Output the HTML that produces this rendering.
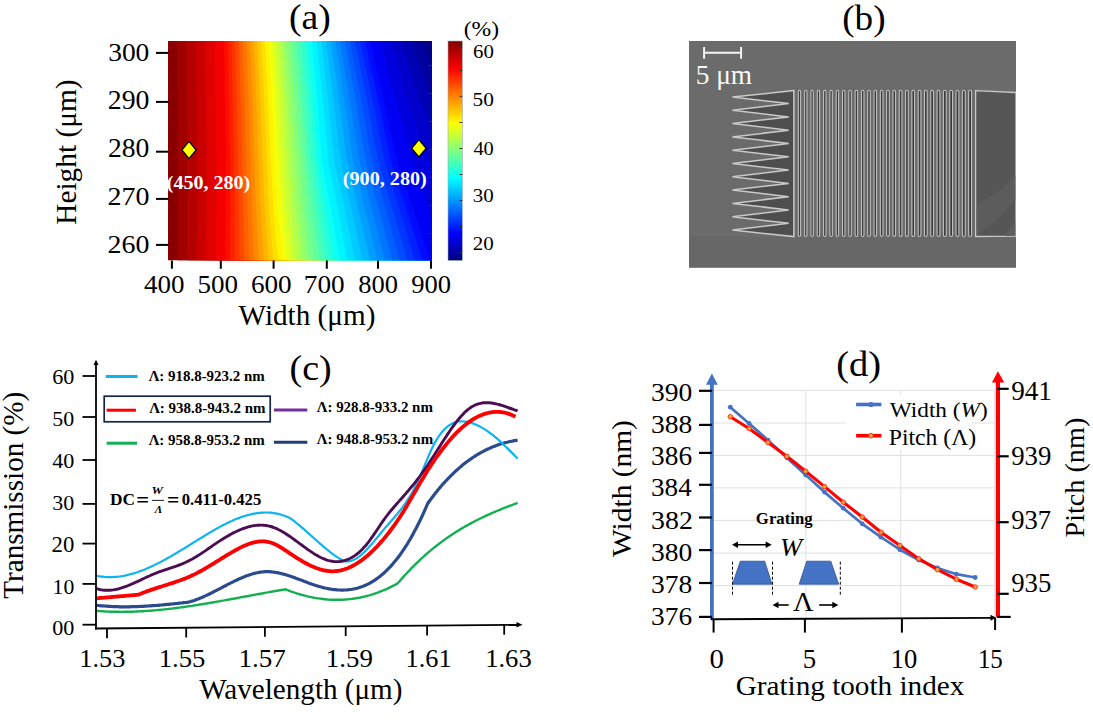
<!DOCTYPE html>
<html><head><meta charset="utf-8"><style>
html,body{margin:0;padding:0;background:#fff;width:1093px;height:720px;overflow:hidden}
svg{display:block}
text{font-family:"Liberation Serif",serif;fill:#000}
.b{font-weight:bold}
</style></head><body>
<svg width="1093" height="720" viewBox="0 0 1093 720">
<defs>
<clipPath id="hc"><rect x="168" y="41" width="264" height="219.5"/></clipPath>
<linearGradient id="cbg" x1="0" y1="0" x2="0" y2="1"><stop offset="0.000" stop-color="#800000"/><stop offset="0.025" stop-color="#990000"/><stop offset="0.050" stop-color="#b30000"/><stop offset="0.075" stop-color="#cc0000"/><stop offset="0.100" stop-color="#e50000"/><stop offset="0.125" stop-color="#ff0000"/><stop offset="0.150" stop-color="#ff1a00"/><stop offset="0.175" stop-color="#ff3300"/><stop offset="0.200" stop-color="#ff4c00"/><stop offset="0.225" stop-color="#ff6600"/><stop offset="0.250" stop-color="#ff8000"/><stop offset="0.275" stop-color="#ff9900"/><stop offset="0.300" stop-color="#ffb300"/><stop offset="0.325" stop-color="#ffcc00"/><stop offset="0.350" stop-color="#ffe500"/><stop offset="0.375" stop-color="#ffff00"/><stop offset="0.400" stop-color="#e5ff1a"/><stop offset="0.425" stop-color="#ccff33"/><stop offset="0.450" stop-color="#b3ff4c"/><stop offset="0.475" stop-color="#99ff66"/><stop offset="0.500" stop-color="#80ff80"/><stop offset="0.525" stop-color="#66ff99"/><stop offset="0.550" stop-color="#4cffb3"/><stop offset="0.575" stop-color="#33ffcc"/><stop offset="0.600" stop-color="#1affe5"/><stop offset="0.625" stop-color="#00ffff"/><stop offset="0.650" stop-color="#00e5ff"/><stop offset="0.675" stop-color="#00ccff"/><stop offset="0.700" stop-color="#00b3ff"/><stop offset="0.725" stop-color="#0099ff"/><stop offset="0.750" stop-color="#0080ff"/><stop offset="0.775" stop-color="#0066ff"/><stop offset="0.800" stop-color="#004cff"/><stop offset="0.825" stop-color="#0033ff"/><stop offset="0.850" stop-color="#001aff"/><stop offset="0.875" stop-color="#0000ff"/><stop offset="0.900" stop-color="#0000e5"/><stop offset="0.925" stop-color="#0000cc"/><stop offset="0.950" stop-color="#0000b3"/><stop offset="0.975" stop-color="#000099"/><stop offset="1.000" stop-color="#000080"/></linearGradient>
</defs>

<g clip-path="url(#hc)"><rect x="163" y="41" width="274" height="219.5" fill="#8a0000"/><polygon points="177.3,41.0 177.4,54.7 177.4,68.4 177.4,82.2 177.5,95.9 177.5,109.6 177.6,123.3 177.6,137.0 177.6,150.8 177.7,164.5 177.7,178.2 177.7,191.9 177.7,205.6 177.6,219.3 177.6,233.1 177.5,246.8 177.5,260.5 520,260.5 520,41.0" fill="#9f0000"/><polygon points="186.7,41.0 186.7,54.7 186.8,68.4 186.9,82.2 187.0,95.9 187.1,109.6 187.1,123.3 187.2,137.0 187.3,150.8 187.3,164.5 187.3,178.2 187.3,191.9 187.3,205.6 187.2,219.3 187.2,233.1 187.1,246.8 187.0,260.5 520,260.5 520,41.0" fill="#b50000"/><polygon points="196.0,41.0 196.1,54.7 196.2,68.4 196.3,82.2 196.5,95.9 196.6,109.6 196.7,123.3 196.8,137.0 196.9,150.8 197.0,164.5 197.0,178.2 197.0,191.9 197.0,205.6 196.9,219.3 196.8,233.1 196.6,246.8 196.5,260.5 520,260.5 520,41.0" fill="#ca0000"/><polygon points="205.3,41.0 205.5,54.7 205.6,68.4 205.8,82.2 206.0,95.9 206.1,109.6 206.3,123.3 206.4,137.0 206.6,150.8 206.7,164.5 206.7,178.2 206.7,191.9 206.7,205.6 206.5,219.3 206.3,233.1 206.2,246.8 206.0,260.5 520,260.5 520,41.0" fill="#df0000"/><polygon points="214.7,41.0 214.9,54.7 215.1,68.4 215.2,82.2 215.4,95.9 215.6,109.6 215.8,123.3 216.0,137.0 216.2,150.8 216.3,164.5 216.3,178.2 216.3,191.9 216.3,205.6 216.1,219.3 215.9,233.1 215.7,246.8 215.5,260.5 520,260.5 520,41.0" fill="#f40000"/><polygon points="224.0,41.0 224.2,54.7 224.5,68.4 224.7,82.2 224.9,95.9 225.2,109.6 225.4,123.3 225.6,137.0 225.9,150.8 226.0,164.5 226.0,178.2 226.0,191.9 226.0,205.6 225.8,219.3 225.5,233.1 225.2,246.8 225.0,260.5 520,260.5 520,41.0" fill="#ff0b00"/><polygon points="227.7,41.0 228.0,54.7 228.3,68.4 228.5,82.2 228.8,95.9 229.1,109.6 229.4,123.3 229.6,137.0 229.9,150.8 230.1,164.5 230.1,178.2 230.2,191.9 230.3,205.6 230.2,219.3 230.1,233.1 229.9,246.8 229.8,260.5 520,260.5 520,41.0" fill="#ff2000"/><polygon points="231.4,41.0 231.7,54.7 232.1,68.4 232.4,82.2 232.7,95.9 233.0,109.6 233.3,123.3 233.6,137.0 233.9,150.8 234.2,164.5 234.3,178.2 234.4,191.9 234.6,205.6 234.6,219.3 234.6,233.1 234.6,246.8 234.7,260.5 520,260.5 520,41.0" fill="#ff3500"/><polygon points="235.1,41.0 235.5,54.7 235.9,68.4 236.3,82.2 236.6,95.9 237.0,109.6 237.3,123.3 237.6,137.0 238.0,150.8 238.2,164.5 238.4,178.2 238.6,191.9 238.8,205.6 239.0,219.3 239.2,233.1 239.3,246.8 239.5,260.5 520,260.5 520,41.0" fill="#ff4a00"/><polygon points="238.8,41.0 239.3,54.7 239.7,68.4 240.1,82.2 240.5,95.9 240.9,109.6 241.3,123.3 241.6,137.0 242.0,150.8 242.3,164.5 242.6,178.2 242.9,191.9 243.1,205.6 243.4,219.3 243.7,233.1 244.0,246.8 244.3,260.5 520,260.5 520,41.0" fill="#ff6000"/><polygon points="242.5,41.0 243.0,54.7 243.5,68.4 244.0,82.2 244.4,95.9 244.9,109.6 245.2,123.3 245.6,137.0 246.0,150.8 246.4,164.5 246.7,178.2 247.1,191.9 247.4,205.6 247.9,219.3 248.3,233.1 248.7,246.8 249.2,260.5 520,260.5 520,41.0" fill="#ff7500"/><polygon points="246.2,41.0 246.8,54.7 247.3,68.4 247.8,82.2 248.3,95.9 248.8,109.6 249.2,123.3 249.6,137.0 250.1,150.8 250.5,164.5 250.9,178.2 251.3,191.9 251.7,205.6 252.3,219.3 252.8,233.1 253.4,246.8 254.0,260.5 520,260.5 520,41.0" fill="#ff8a00"/><polygon points="250.0,41.0 250.5,54.7 251.1,68.4 251.7,82.2 252.2,95.9 252.7,109.6 253.2,123.3 253.7,137.0 254.1,150.8 254.6,164.5 255.0,178.2 255.5,191.9 256.0,205.6 256.7,219.3 257.4,233.1 258.1,246.8 258.8,260.5 520,260.5 520,41.0" fill="#ff9f00"/><polygon points="253.7,41.0 254.3,54.7 254.9,68.4 255.5,82.2 256.1,95.9 256.7,109.6 257.2,123.3 257.7,137.0 258.2,150.8 258.7,164.5 259.2,178.2 259.7,191.9 260.3,205.6 261.1,219.3 262.0,233.1 262.8,246.8 263.7,260.5 520,260.5 520,41.0" fill="#ffb500"/><polygon points="257.4,41.0 258.0,54.7 258.7,68.4 259.4,82.2 260.0,95.9 260.6,109.6 261.1,123.3 261.7,137.0 262.2,150.8 262.7,164.5 263.3,178.2 263.9,191.9 264.5,205.6 265.5,219.3 266.5,233.1 267.5,246.8 268.5,260.5 520,260.5 520,41.0" fill="#ffca00"/><polygon points="261.1,41.0 261.8,54.7 262.5,68.4 263.2,82.2 263.9,95.9 264.5,109.6 265.1,123.3 265.7,137.0 266.2,150.8 266.8,164.5 267.5,178.2 268.2,191.9 268.8,205.6 270.0,219.3 271.1,233.1 272.2,246.8 273.3,260.5 520,260.5 520,41.0" fill="#ffdf00"/><polygon points="264.8,41.0 265.6,54.7 266.3,68.4 267.1,82.2 267.8,95.9 268.5,109.6 269.1,123.3 269.7,137.0 270.3,150.8 270.9,164.5 271.6,178.2 272.4,191.9 273.1,205.6 274.4,219.3 275.6,233.1 276.9,246.8 278.2,260.5 520,260.5 520,41.0" fill="#fff400"/><polygon points="268.5,41.0 269.3,54.7 270.1,68.4 270.9,82.2 271.7,95.9 272.4,109.6 273.1,123.3 273.7,137.0 274.3,150.8 275.0,164.5 275.8,178.2 276.6,191.9 277.4,205.6 278.8,219.3 280.2,233.1 281.6,246.8 283.0,260.5 520,260.5 520,41.0" fill="#f4ff0b"/><polygon points="271.9,41.0 272.8,54.7 273.7,68.4 274.6,82.2 275.5,95.9 276.2,109.6 276.9,123.3 277.7,137.0 278.4,150.8 279.1,164.5 280.0,178.2 280.8,191.9 281.7,205.6 283.1,219.3 284.5,233.1 286.0,246.8 287.4,260.5 520,260.5 520,41.0" fill="#dfff20"/><polygon points="275.2,41.0 276.2,54.7 277.2,68.4 278.2,82.2 279.2,95.9 280.0,109.6 280.8,123.3 281.6,137.0 282.4,150.8 283.3,164.5 284.1,178.2 285.0,191.9 285.9,205.6 287.4,219.3 288.9,233.1 290.3,246.8 291.8,260.5 520,260.5 520,41.0" fill="#caff35"/><polygon points="278.6,41.0 279.7,54.7 280.8,68.4 281.8,82.2 282.9,95.9 283.8,109.6 284.7,123.3 285.6,137.0 286.5,150.8 287.4,164.5 288.3,178.2 289.3,191.9 290.2,205.6 291.7,219.3 293.2,233.1 294.7,246.8 296.2,260.5 520,260.5 520,41.0" fill="#b5ff4a"/><polygon points="282.0,41.0 283.1,54.7 284.3,68.4 285.5,82.2 286.6,95.9 287.7,109.6 288.6,123.3 289.6,137.0 290.5,150.8 291.5,164.5 292.5,178.2 293.5,191.9 294.5,205.6 296.0,219.3 297.5,233.1 299.1,246.8 300.6,260.5 520,260.5 520,41.0" fill="#9fff60"/><polygon points="285.3,41.0 286.6,54.7 287.8,68.4 289.1,82.2 290.3,95.9 291.5,109.6 292.5,123.3 293.6,137.0 294.6,150.8 295.7,164.5 296.7,178.2 297.7,191.9 298.7,205.6 300.3,219.3 301.9,233.1 303.4,246.8 305.0,260.5 520,260.5 520,41.0" fill="#8aff75"/><polygon points="288.7,41.0 290.0,54.7 291.4,68.4 292.7,82.2 294.1,95.9 295.3,109.6 296.4,123.3 297.5,137.0 298.7,150.8 299.8,164.5 300.9,178.2 301.9,191.9 303.0,205.6 304.6,219.3 306.2,233.1 307.8,246.8 309.4,260.5 520,260.5 520,41.0" fill="#75ff8a"/><polygon points="292.6,41.0 293.9,54.7 295.2,68.4 296.6,82.2 297.9,95.9 299.1,109.6 300.2,123.3 301.3,137.0 302.4,150.8 303.6,164.5 304.9,178.2 306.2,191.9 307.6,205.6 309.3,219.3 311.0,233.1 312.8,246.8 314.5,260.5 520,260.5 520,41.0" fill="#60ff9f"/><polygon points="296.5,41.0 297.8,54.7 299.1,68.4 300.4,82.2 301.7,95.9 302.9,109.6 304.0,123.3 305.0,137.0 306.1,150.8 307.4,164.5 309.0,178.2 310.6,191.9 312.2,205.6 314.0,219.3 315.9,233.1 317.7,246.8 319.6,260.5 520,260.5 520,41.0" fill="#4affb5"/><polygon points="300.4,41.0 301.7,54.7 303.0,68.4 304.3,82.2 305.6,95.9 306.7,109.6 307.8,123.3 308.8,137.0 309.8,150.8 311.2,164.5 313.0,178.2 314.9,191.9 316.8,205.6 318.7,219.3 320.7,233.1 322.7,246.8 324.7,260.5 520,260.5 520,41.0" fill="#35ffca"/><polygon points="304.2,41.0 305.5,54.7 306.8,68.4 308.1,82.2 309.4,95.9 310.5,109.6 311.5,123.3 312.5,137.0 313.6,150.8 315.0,164.5 317.1,178.2 319.2,191.9 321.3,205.6 323.4,219.3 325.6,233.1 327.7,246.8 329.8,260.5 520,260.5 520,41.0" fill="#20ffdf"/><polygon points="308.1,41.0 309.4,54.7 310.7,68.4 312.0,82.2 313.3,95.9 314.3,109.6 315.3,123.3 316.3,137.0 317.3,150.8 318.8,164.5 321.1,178.2 323.5,191.9 325.9,205.6 328.2,219.3 330.4,233.1 332.7,246.8 334.9,260.5 520,260.5 520,41.0" fill="#0bfff4"/><polygon points="312.0,41.0 313.3,54.7 314.5,68.4 315.8,82.2 317.1,95.9 318.1,109.6 319.1,123.3 320.0,137.0 321.0,150.8 322.6,164.5 325.2,178.2 327.9,191.9 330.5,205.6 332.9,219.3 335.2,233.1 337.6,246.8 340.0,260.5 520,260.5 520,41.0" fill="#00f4ff"/><polygon points="316.7,41.0 318.1,54.7 319.6,68.4 321.0,82.2 322.5,95.9 323.7,109.6 324.8,123.3 326.0,137.0 327.1,150.8 328.8,164.5 331.6,178.2 334.4,191.9 337.2,205.6 339.8,219.3 342.4,233.1 344.9,246.8 347.5,260.5 520,260.5 520,41.0" fill="#00dfff"/><polygon points="321.3,41.0 323.0,54.7 324.6,68.4 326.2,82.2 327.8,95.9 329.2,109.6 330.6,123.3 331.9,137.0 333.2,150.8 335.1,164.5 338.1,178.2 341.0,191.9 344.0,205.6 346.8,219.3 349.5,233.1 352.2,246.8 355.0,260.5 520,260.5 520,41.0" fill="#00caff"/><polygon points="326.0,41.0 327.8,54.7 329.6,68.4 331.4,82.2 333.2,95.9 334.8,109.6 336.3,123.3 337.8,137.0 339.3,150.8 341.4,164.5 344.5,178.2 347.6,191.9 350.8,205.6 353.7,219.3 356.6,233.1 359.6,246.8 362.5,260.5 520,260.5 520,41.0" fill="#00b5ff"/><polygon points="330.7,41.0 332.6,54.7 334.6,68.4 336.6,82.2 338.5,95.9 340.3,109.6 342.0,123.3 343.7,137.0 345.4,150.8 347.7,164.5 351.0,178.2 354.2,191.9 357.5,205.6 360.6,219.3 363.8,233.1 366.9,246.8 370.0,260.5 520,260.5 520,41.0" fill="#009fff"/><polygon points="335.3,41.0 337.5,54.7 339.6,68.4 341.8,82.2 343.9,95.9 345.9,109.6 347.8,123.3 349.7,137.0 351.6,150.8 354.0,164.5 357.4,178.2 360.8,191.9 364.2,205.6 367.6,219.3 370.9,233.1 374.2,246.8 377.5,260.5 520,260.5 520,41.0" fill="#008aff"/><polygon points="340.0,41.0 342.3,54.7 344.6,68.4 346.9,82.2 349.3,95.9 351.4,109.6 353.5,123.3 355.6,137.0 357.7,150.8 360.3,164.5 363.9,178.2 367.4,191.9 371.0,205.6 374.5,219.3 378.0,233.1 381.5,246.8 385.0,260.5 520,260.5 520,41.0" fill="#0075ff"/><polygon points="345.0,41.0 347.5,54.7 349.9,68.4 352.4,82.2 354.9,95.9 357.2,109.6 359.4,123.3 361.6,137.0 363.9,150.8 366.6,164.5 370.4,178.2 374.1,191.9 377.8,205.6 381.5,219.3 385.2,233.1 388.8,246.8 392.5,260.5 520,260.5 520,41.0" fill="#0060ff"/><polygon points="350.0,41.0 352.6,54.7 355.2,68.4 357.9,82.2 360.5,95.9 362.9,109.6 365.3,123.3 367.7,137.0 370.1,150.8 373.0,164.5 376.9,178.2 380.8,191.9 384.7,205.6 388.5,219.3 392.3,233.1 396.2,246.8 400.0,260.5 520,260.5 520,41.0" fill="#004aff"/><polygon points="355.0,41.0 357.8,54.7 360.6,68.4 363.3,82.2 366.1,95.9 368.7,109.6 371.2,123.3 373.7,137.0 376.2,150.8 379.3,164.5 383.4,178.2 387.4,191.9 391.5,205.6 395.5,219.3 399.5,233.1 403.5,246.8 407.5,260.5 520,260.5 520,41.0" fill="#0035ff"/><polygon points="360.0,41.0 362.9,54.7 365.9,68.4 368.8,82.2 371.7,95.9 374.5,109.6 377.1,123.3 379.8,137.0 382.4,150.8 385.7,164.5 389.9,178.2 394.1,191.9 398.3,205.6 402.5,219.3 406.7,233.1 410.8,246.8 415.0,260.5 520,260.5 520,41.0" fill="#0020ff"/><polygon points="365.0,41.0 368.1,54.7 371.2,68.4 374.3,82.2 377.3,95.9 380.2,109.6 383.0,123.3 385.8,137.0 388.6,150.8 392.0,164.5 396.4,178.2 400.8,191.9 405.2,205.6 409.5,219.3 413.8,233.1 418.2,246.8 422.5,260.5 520,260.5 520,41.0" fill="#000bff"/><polygon points="370.0,41.0 373.2,54.7 376.5,68.4 379.7,82.2 383.0,95.9 386.0,109.6 388.9,123.3 391.9,137.0 394.8,150.8 398.3,164.5 402.9,178.2 407.4,191.9 412.0,205.6 416.5,219.3 421.0,233.1 425.5,246.8 430.0,260.5 520,260.5 520,41.0" fill="#0000f4"/><polygon points="380.3,41.0 383.9,54.7 387.5,68.4 391.1,82.2 394.7,95.9 398.4,109.6 402.2,123.3 406.0,137.0 409.8,150.8 413.9,164.5 418.4,178.2 423.0,191.9 427.5,205.6 431.0,219.3 434.6,233.1 438.1,246.8 441.7,260.5 520,260.5 520,41.0" fill="#0000df"/><polygon points="390.7,41.0 394.6,54.7 398.5,68.4 402.5,82.2 406.4,95.9 410.8,109.6 415.5,123.3 420.2,137.0 424.8,150.8 429.4,164.5 434.0,178.2 438.5,191.9 443.0,205.6 445.6,219.3 448.2,233.1 450.8,246.8 453.3,260.5 520,260.5 520,41.0" fill="#0000ca"/><polygon points="401.0,41.0 405.3,54.7 409.6,68.4 413.8,82.2 418.1,95.9 423.3,109.6 428.8,123.3 434.3,137.0 439.8,150.8 445.0,164.5 449.5,178.2 454.0,191.9 458.5,205.6 460.1,219.3 461.8,233.1 463.4,246.8 465.0,260.5 520,260.5 520,41.0" fill="#0000b5"/><polygon points="411.3,41.0 416.0,54.7 420.6,68.4 425.2,82.2 429.9,95.9 435.7,109.6 442.1,123.3 448.4,137.0 454.8,150.8 460.5,164.5 465.0,178.2 469.5,191.9 474.0,205.6 474.7,219.3 475.3,233.1 476.0,246.8 476.7,260.5 520,260.5 520,41.0" fill="#00009f"/><polygon points="421.7,41.0 426.6,54.7 431.6,68.4 436.6,82.2 441.6,95.9 448.1,109.6 455.3,123.3 462.6,137.0 469.8,150.8 476.1,164.5 480.5,178.2 485.0,191.9 489.5,205.6 489.2,219.3 488.9,233.1 488.6,246.8 488.3,260.5 520,260.5 520,41.0" fill="#00008a"/></g>
<rect x="448" y="41" width="14.3" height="219.5" fill="url(#cbg)" stroke="#9aa" stroke-width="0.6"/>
<line x1="168" y1="65.6" x2="171" y2="65.6" stroke="#333" stroke-width="1"/>
<line x1="429" y1="65.6" x2="432" y2="65.6" stroke="#333" stroke-width="1"/>
<line x1="168" y1="93.5" x2="171" y2="93.5" stroke="#333" stroke-width="1"/>
<line x1="429" y1="93.5" x2="432" y2="93.5" stroke="#333" stroke-width="1"/>
<line x1="168" y1="121.5" x2="171" y2="121.5" stroke="#333" stroke-width="1"/>
<line x1="429" y1="121.5" x2="432" y2="121.5" stroke="#333" stroke-width="1"/>
<line x1="168" y1="149.5" x2="171" y2="149.5" stroke="#333" stroke-width="1"/>
<line x1="429" y1="149.5" x2="432" y2="149.5" stroke="#333" stroke-width="1"/>
<line x1="168" y1="177.5" x2="171" y2="177.5" stroke="#333" stroke-width="1"/>
<line x1="429" y1="177.5" x2="432" y2="177.5" stroke="#333" stroke-width="1"/>
<line x1="168" y1="205.3" x2="171" y2="205.3" stroke="#333" stroke-width="1"/>
<line x1="429" y1="205.3" x2="432" y2="205.3" stroke="#333" stroke-width="1"/>
<line x1="168" y1="233.4" x2="171" y2="233.4" stroke="#333" stroke-width="1"/>
<line x1="429" y1="233.4" x2="432" y2="233.4" stroke="#333" stroke-width="1"/>
<line x1="459.5" y1="44.4" x2="462.3" y2="44.4" stroke="#333" stroke-width="1"/>
<line x1="459.5" y1="70.4" x2="462.3" y2="70.4" stroke="#333" stroke-width="1"/>
<line x1="459.5" y1="96.3" x2="462.3" y2="96.3" stroke="#333" stroke-width="1"/>
<line x1="459.5" y1="122.5" x2="462.3" y2="122.5" stroke="#333" stroke-width="1"/>
<line x1="459.5" y1="148.5" x2="462.3" y2="148.5" stroke="#333" stroke-width="1"/>
<line x1="459.5" y1="174.5" x2="462.3" y2="174.5" stroke="#333" stroke-width="1"/>
<line x1="459.5" y1="200.5" x2="462.3" y2="200.5" stroke="#333" stroke-width="1"/>
<line x1="459.5" y1="226.5" x2="462.3" y2="226.5" stroke="#333" stroke-width="1"/>
<line x1="459.5" y1="252.5" x2="462.3" y2="252.5" stroke="#333" stroke-width="1"/>
<line x1="156" y1="52.9" x2="168.5" y2="52.9" stroke="#000" stroke-width="2"/>
<line x1="156" y1="101.9" x2="168.5" y2="101.9" stroke="#000" stroke-width="2"/>
<line x1="156" y1="151.7" x2="168.5" y2="151.7" stroke="#000" stroke-width="2"/>
<line x1="156" y1="198.9" x2="168.5" y2="198.9" stroke="#000" stroke-width="2"/>
<line x1="156" y1="244.9" x2="168.5" y2="244.9" stroke="#000" stroke-width="2"/>
<line x1="171.9" y1="260.5" x2="171.9" y2="268.7" stroke="#000" stroke-width="2"/>
<line x1="220.8" y1="260.5" x2="220.8" y2="268.7" stroke="#000" stroke-width="2"/>
<line x1="273.6" y1="260.5" x2="273.6" y2="268.7" stroke="#000" stroke-width="2"/>
<line x1="326.8" y1="260.5" x2="326.8" y2="268.7" stroke="#000" stroke-width="2"/>
<line x1="378" y1="260.5" x2="378" y2="268.7" stroke="#000" stroke-width="2"/>
<line x1="431" y1="260.5" x2="431" y2="268.7" stroke="#000" stroke-width="2"/>
<text transform="translate(108.16,60.54) scale(1.0543,1)" font-size="26.07">300</text>
<text transform="translate(107.75,108.93) scale(1.0358,1)" font-size="26.81">290</text>
<text transform="translate(107.96,156.54) scale(1.0479,1)" font-size="26.37">280</text>
<text transform="translate(107.49,204.74) scale(1.0843,1)" font-size="25.78">270</text>
<text transform="translate(107.49,252.64) scale(1.0906,1)" font-size="25.63">260</text>
<text transform="translate(144.06,293.24) scale(1.0480,1)" font-size="25.78">400</text>
<text transform="translate(197.38,293.24) scale(1.0502,1)" font-size="25.78">500</text>
<text transform="translate(250.91,293.24) scale(1.0545,1)" font-size="25.78">600</text>
<text transform="translate(303.83,293.24) scale(1.0567,1)" font-size="25.78">700</text>
<text transform="translate(358.24,293.24) scale(1.0272,1)" font-size="25.78">800</text>
<text transform="translate(411.20,293.24) scale(1.0309,1)" font-size="25.78">900</text>
<text transform="translate(238.50,325.43) scale(1.0186,1)" font-size="28.68">Width (&#956;m)</text>
<text transform="translate(75.92,224.78) rotate(-90) scale(1.0046,1)" font-size="29.23">Height (&#956;m)</text>
<text transform="translate(289.01,29.44) scale(1.0706,1)" font-size="35.16">(a)</text>
<text transform="translate(472.97,57.82) scale(1.1547,1)" font-size="18.07">60</text>
<text transform="translate(472.52,106.22) scale(1.1803,1)" font-size="18.07">50</text>
<text transform="translate(473.39,154.61) scale(1.0856,1)" font-size="18.81">40</text>
<text transform="translate(472.86,202.02) scale(1.1610,1)" font-size="18.07">30</text>
<text transform="translate(472.86,249.62) scale(1.1610,1)" font-size="18.07">20</text>
<text transform="translate(463.64,36.07) scale(1.0746,1)" font-size="21.98">(%)</text>
<polygon points="189,141.4 196.2,150 189,158.6 181.8,150" fill="#ffff00" stroke="#000" stroke-width="1.3"/>
<polygon points="418.9,139.7 426.1,148.3 418.9,156.9 411.7,148.3" fill="#ffff00" stroke="#000" stroke-width="1.3"/>
<text transform="translate(166.70,188.97) scale(1.0193,1)" font-size="19.67" font-weight="bold" style="fill:#fff">(450, 280)</text>
<text transform="translate(342.79,185.49) scale(1.0312,1)" font-size="19.56" font-weight="bold" style="fill:#fff">(900, 280)</text>
<text transform="translate(842.23,30.03) scale(1.0296,1)" font-size="36.15">(b)</text>
<rect x="689" y="41" width="327" height="196" fill="#6b6b6b"/><rect x="689" y="237" width="327" height="30.8" fill="#676767"/><polygon points="793.9,90.6 732.4,97.0 788.7,103.6 732.4,110.3 788.7,116.9 732.4,123.6 788.7,130.2 732.4,136.9 788.7,143.5 732.4,150.2 788.7,156.8 732.4,163.5 788.7,170.1 732.4,176.8 788.7,183.4 732.4,190.1 788.7,196.7 732.4,203.4 788.7,210.0 732.4,216.7 788.7,223.3 732.4,230.0 793.9,236.6" fill="#4e4e4e" stroke="#c9c9c9" stroke-width="1.5" stroke-linejoin="miter"/><rect x="798.35" y="90.2" width="2.30" height="146.2" rx="1.15" ry="1.15" fill="#3c3c3c" stroke="#c4c4c4" stroke-width="1.05"/><rect x="804.66" y="90.2" width="2.32" height="146.2" rx="1.16" ry="1.16" fill="#3c3c3c" stroke="#c4c4c4" stroke-width="1.05"/><rect x="810.96" y="90.2" width="2.34" height="146.2" rx="1.17" ry="1.17" fill="#3c3c3c" stroke="#c4c4c4" stroke-width="1.05"/><rect x="817.27" y="90.2" width="2.37" height="146.2" rx="1.18" ry="1.18" fill="#3c3c3c" stroke="#c4c4c4" stroke-width="1.05"/><rect x="823.58" y="90.2" width="2.39" height="146.2" rx="1.19" ry="1.19" fill="#3c3c3c" stroke="#c4c4c4" stroke-width="1.05"/><rect x="829.88" y="90.2" width="2.41" height="146.2" rx="1.21" ry="1.21" fill="#3c3c3c" stroke="#c4c4c4" stroke-width="1.05"/><rect x="836.19" y="90.2" width="2.43" height="146.2" rx="1.22" ry="1.22" fill="#3c3c3c" stroke="#c4c4c4" stroke-width="1.05"/><rect x="842.50" y="90.2" width="2.46" height="146.2" rx="1.23" ry="1.23" fill="#3c3c3c" stroke="#c4c4c4" stroke-width="1.05"/><rect x="848.81" y="90.2" width="2.48" height="146.2" rx="1.24" ry="1.24" fill="#3c3c3c" stroke="#c4c4c4" stroke-width="1.05"/><rect x="855.11" y="90.2" width="2.50" height="146.2" rx="1.25" ry="1.25" fill="#3c3c3c" stroke="#c4c4c4" stroke-width="1.05"/><rect x="861.42" y="90.2" width="2.52" height="146.2" rx="1.26" ry="1.26" fill="#3c3c3c" stroke="#c4c4c4" stroke-width="1.05"/><rect x="867.73" y="90.2" width="2.54" height="146.2" rx="1.27" ry="1.27" fill="#3c3c3c" stroke="#c4c4c4" stroke-width="1.05"/><rect x="874.03" y="90.2" width="2.57" height="146.2" rx="1.28" ry="1.28" fill="#3c3c3c" stroke="#c4c4c4" stroke-width="1.05"/><rect x="880.34" y="90.2" width="2.59" height="146.2" rx="1.29" ry="1.29" fill="#3c3c3c" stroke="#c4c4c4" stroke-width="1.05"/><rect x="886.65" y="90.2" width="2.61" height="146.2" rx="1.31" ry="1.31" fill="#3c3c3c" stroke="#c4c4c4" stroke-width="1.05"/><rect x="892.95" y="90.2" width="2.63" height="146.2" rx="1.32" ry="1.32" fill="#3c3c3c" stroke="#c4c4c4" stroke-width="1.05"/><rect x="899.26" y="90.2" width="2.66" height="146.2" rx="1.33" ry="1.33" fill="#3c3c3c" stroke="#c4c4c4" stroke-width="1.05"/><rect x="905.57" y="90.2" width="2.68" height="146.2" rx="1.34" ry="1.34" fill="#3c3c3c" stroke="#c4c4c4" stroke-width="1.05"/><rect x="911.87" y="90.2" width="2.70" height="146.2" rx="1.35" ry="1.35" fill="#3c3c3c" stroke="#c4c4c4" stroke-width="1.05"/><rect x="918.18" y="90.2" width="2.72" height="146.2" rx="1.36" ry="1.36" fill="#3c3c3c" stroke="#c4c4c4" stroke-width="1.05"/><rect x="924.49" y="90.2" width="2.74" height="146.2" rx="1.37" ry="1.37" fill="#3c3c3c" stroke="#c4c4c4" stroke-width="1.05"/><rect x="930.79" y="90.2" width="2.77" height="146.2" rx="1.38" ry="1.38" fill="#3c3c3c" stroke="#c4c4c4" stroke-width="1.05"/><rect x="937.10" y="90.2" width="2.79" height="146.2" rx="1.39" ry="1.39" fill="#3c3c3c" stroke="#c4c4c4" stroke-width="1.05"/><rect x="943.41" y="90.2" width="2.81" height="146.2" rx="1.41" ry="1.41" fill="#3c3c3c" stroke="#c4c4c4" stroke-width="1.05"/><rect x="949.72" y="90.2" width="2.83" height="146.2" rx="1.42" ry="1.42" fill="#3c3c3c" stroke="#c4c4c4" stroke-width="1.05"/><rect x="956.02" y="90.2" width="2.86" height="146.2" rx="1.43" ry="1.43" fill="#3c3c3c" stroke="#c4c4c4" stroke-width="1.05"/><rect x="962.33" y="90.2" width="2.88" height="146.2" rx="1.44" ry="1.44" fill="#3c3c3c" stroke="#c4c4c4" stroke-width="1.05"/><rect x="968.64" y="90.2" width="2.90" height="146.2" rx="1.45" ry="1.45" fill="#3c3c3c" stroke="#c4c4c4" stroke-width="1.05"/><polygon points="1016,92.5 975.6,90.7 975.6,236.5 1016,236.2" fill="#565656" stroke="#c8c8c8" stroke-width="1.3"/><polygon points="977,205 1000,190 1015.3,176 1015.3,200 995,222 977,235" fill="#5d5d5d" opacity="0.9"/><polygon points="1005,236 1015.3,222 1015.3,235.6" fill="#5f5f5f"/><rect x="1016" y="88" width="6" height="152" fill="#fff"/><path d="M704.1,52.8 H741.1 M704.1,47 V58.8 M741.1,47 V58.8" stroke="#f4f4f4" stroke-width="2" fill="none"/><text transform="translate(695.66,84.07) scale(0.9910,1)" font-size="27.59" style="fill:#f8f8f8">5 &#956;m</text>
<path d="M96.8,610.9 L98.3,611.0 L99.8,611.1 L101.3,611.2 L102.8,611.3 L104.3,611.4 L105.8,611.5 L107.3,611.6 L108.8,611.6 L110.3,611.7 L111.8,611.7 L113.3,611.8 L114.8,611.8 L116.3,611.8 L117.8,611.8 L119.3,611.8 L120.8,611.9 L122.3,611.9 L123.8,611.8 L125.3,611.8 L126.8,611.8 L128.3,611.8 L129.8,611.7 L131.3,611.7 L132.8,611.7 L134.3,611.6 L135.8,611.5 L137.3,611.5 L138.8,611.4 L140.3,611.3 L141.8,611.3 L143.3,611.2 L144.8,611.1 L146.3,611.0 L147.8,610.9 L149.3,610.8 L150.8,610.7 L152.3,610.5 L153.8,610.4 L155.3,610.3 L156.8,610.1 L158.3,610.0 L159.8,609.9 L161.3,609.7 L162.8,609.6 L164.3,609.4 L165.8,609.2 L167.3,609.1 L168.8,608.9 L170.3,608.7 L171.8,608.6 L173.3,608.4 L174.8,608.2 L176.3,608.0 L177.8,607.8 L179.3,607.6 L180.8,607.4 L182.3,607.2 L183.8,607.0 L185.3,606.8 L186.8,606.6 L188.3,606.3 L189.8,606.1 L191.3,605.9 L192.8,605.7 L194.3,605.4 L195.8,605.2 L197.3,605.0 L198.8,604.7 L200.3,604.5 L201.8,604.3 L203.3,604.0 L204.8,603.8 L206.3,603.5 L207.8,603.3 L209.3,603.0 L210.8,602.8 L212.3,602.5 L213.8,602.2 L215.3,602.0 L216.8,601.7 L218.3,601.4 L219.8,601.2 L221.3,600.9 L222.8,600.6 L224.3,600.4 L225.8,600.1 L227.3,599.8 L228.8,599.6 L230.3,599.3 L231.8,599.0 L233.3,598.7 L234.8,598.5 L236.3,598.2 L237.8,597.9 L239.3,597.6 L240.8,597.3 L242.3,597.1 L243.8,596.8 L245.3,596.5 L246.8,596.2 L248.3,596.0 L249.8,595.7 L251.3,595.4 L252.8,595.1 L254.3,594.8 L255.8,594.6 L257.3,594.3 L258.8,594.0 L260.3,593.7 L261.8,593.5 L263.3,593.2 L264.8,592.9 L266.3,592.6 L267.8,592.4 L269.3,592.1 L270.8,591.8 L272.3,591.6 L273.8,591.3 L275.3,591.0 L276.8,590.8 L278.3,590.5 L279.8,590.3 L281.3,590.0 L282.8,589.7 L284.3,589.5 L285.4,589.3 L286.9,589.9 L288.4,590.5 L289.9,591.0 L291.4,591.6 L292.9,592.1 L294.4,592.6 L295.9,593.1 L297.4,593.6 L298.9,594.0 L300.4,594.5 L301.9,594.9 L303.4,595.3 L304.9,595.7 L306.4,596.1 L307.9,596.4 L309.4,596.8 L310.9,597.1 L312.4,597.4 L313.9,597.7 L315.4,597.9 L316.9,598.2 L318.4,598.4 L319.9,598.6 L321.4,598.8 L322.9,599.0 L324.4,599.2 L325.9,599.3 L327.4,599.5 L328.9,599.6 L330.4,599.7 L331.9,599.7 L333.4,599.8 L334.9,599.8 L336.4,599.8 L337.9,599.8 L339.4,599.8 L340.9,599.8 L342.4,599.7 L343.9,599.6 L345.4,599.5 L346.9,599.4 L348.4,599.3 L349.9,599.1 L351.4,598.9 L352.9,598.7 L354.4,598.5 L355.9,598.3 L357.4,598.0 L358.9,597.8 L360.4,597.5 L361.9,597.1 L363.4,596.8 L364.9,596.5 L366.4,596.1 L367.9,595.7 L369.4,595.3 L370.9,594.8 L372.4,594.4 L373.9,593.9 L375.4,593.4 L376.9,592.8 L378.4,592.3 L379.9,591.7 L381.4,591.1 L382.9,590.5 L384.4,589.9 L385.9,589.3 L387.4,588.6 L388.9,587.9 L390.4,587.2 L391.9,586.4 L393.4,585.7 L394.9,584.9 L396.4,584.1 L397.8,583.3 L399.3,581.5 L400.8,579.8 L402.3,578.1 L403.8,576.4 L405.3,574.8 L406.8,573.2 L408.3,571.6 L409.8,570.0 L411.3,568.4 L412.8,566.9 L414.3,565.4 L415.8,563.9 L417.3,562.5 L418.8,561.0 L420.3,559.6 L421.8,558.2 L423.3,556.9 L424.8,555.5 L426.3,554.2 L427.8,552.9 L429.3,551.6 L430.8,550.4 L432.3,549.1 L433.8,547.9 L435.3,546.7 L436.8,545.5 L438.3,544.4 L439.8,543.2 L441.3,542.1 L442.8,541.0 L444.3,539.9 L445.8,538.8 L447.3,537.8 L448.8,536.7 L450.3,535.7 L451.8,534.7 L453.3,533.7 L454.8,532.8 L456.3,531.8 L457.8,530.9 L459.3,529.9 L460.8,529.0 L462.3,528.1 L463.8,527.3 L465.3,526.4 L466.8,525.6 L468.3,524.7 L469.8,523.9 L471.3,523.1 L472.8,522.3 L474.3,521.5 L475.8,520.7 L477.3,520.0 L478.8,519.2 L480.3,518.5 L481.8,517.7 L483.3,517.0 L484.8,516.3 L486.3,515.6 L487.8,514.9 L489.3,514.3 L490.8,513.6 L492.3,512.9 L493.8,512.3 L495.3,511.6 L496.8,511.0 L498.3,510.4 L499.8,509.8 L501.3,509.1 L502.8,508.5 L504.3,507.9 L505.8,507.4 L507.3,506.8 L508.8,506.2 L510.3,505.6 L511.8,505.1 L513.3,504.5 L514.8,503.9 L516.3,503.4 L517.6,502.9" fill="none" stroke="#12b050" stroke-width="2.4" stroke-linejoin="round"/>
<path d="M96.8,605.3 L98.3,605.5 L99.8,605.6 L101.3,605.8 L102.8,605.9 L104.3,606.0 L105.8,606.1 L107.3,606.2 L108.8,606.3 L110.3,606.4 L111.8,606.5 L113.3,606.6 L114.8,606.6 L116.3,606.7 L117.8,606.7 L119.3,606.8 L120.8,606.8 L122.3,606.8 L123.8,606.8 L125.3,606.8 L126.8,606.8 L128.3,606.8 L129.8,606.8 L131.3,606.7 L132.8,606.7 L134.3,606.7 L135.8,606.6 L137.3,606.6 L138.8,606.5 L140.3,606.4 L141.8,606.4 L143.3,606.3 L144.8,606.2 L146.3,606.1 L147.8,606.0 L149.3,605.9 L150.8,605.8 L152.3,605.7 L153.8,605.6 L155.3,605.5 L156.8,605.4 L158.3,605.3 L159.8,605.1 L161.3,605.0 L162.8,604.9 L164.3,604.7 L165.8,604.6 L167.3,604.4 L168.8,604.3 L170.3,604.1 L171.8,604.0 L173.3,603.8 L174.8,603.7 L176.3,603.5 L177.8,603.4 L179.3,603.2 L180.8,603.0 L182.3,602.9 L183.8,602.7 L185.3,602.5 L186.8,602.4 L188.3,602.2 L188.4,602.2 L189.9,601.8 L191.4,601.3 L192.9,600.9 L194.4,600.4 L195.9,599.8 L197.4,599.3 L198.9,598.7 L200.4,598.1 L201.9,597.4 L203.4,596.8 L204.9,596.1 L206.4,595.4 L207.9,594.7 L209.4,594.0 L210.9,593.2 L212.4,592.5 L213.9,591.7 L215.4,590.9 L216.9,590.2 L218.4,589.4 L219.9,588.6 L221.4,587.8 L222.9,587.0 L224.4,586.2 L225.9,585.5 L227.4,584.7 L228.9,583.9 L230.4,583.1 L231.9,582.4 L233.4,581.7 L234.9,580.9 L236.4,580.2 L237.9,579.5 L239.4,578.8 L240.9,578.2 L242.4,577.5 L243.9,576.9 L245.4,576.3 L246.9,575.7 L248.4,575.2 L249.9,574.7 L251.4,574.2 L252.9,573.8 L254.4,573.4 L255.9,573.0 L257.4,572.7 L258.9,572.4 L260.4,572.2 L261.9,572.0 L263.4,571.8 L264.9,571.7 L266.4,571.7 L267.9,571.7 L269.4,571.7 L270.9,571.8 L272.4,572.0 L273.9,572.1 L275.4,572.4 L276.9,572.6 L278.4,572.9 L279.9,573.2 L281.4,573.6 L282.9,574.0 L284.4,574.4 L285.9,574.8 L287.4,575.3 L288.9,575.8 L290.4,576.3 L291.9,576.8 L293.4,577.3 L294.9,577.8 L296.4,578.4 L297.9,578.9 L299.4,579.5 L300.9,580.1 L302.4,580.6 L303.9,581.2 L305.4,581.8 L306.9,582.3 L308.4,582.9 L309.9,583.4 L311.4,584.0 L312.9,584.5 L314.4,585.0 L315.9,585.5 L317.4,585.9 L318.9,586.4 L320.4,586.8 L321.9,587.2 L323.4,587.6 L324.9,588.0 L326.4,588.3 L327.9,588.6 L329.4,588.9 L330.9,589.1 L332.4,589.4 L333.9,589.6 L335.4,589.7 L336.9,589.9 L338.4,590.0 L339.9,590.0 L341.4,590.1 L342.9,590.1 L344.4,590.0 L345.9,590.0 L347.4,589.9 L348.9,589.7 L350.4,589.5 L351.9,589.3 L353.4,589.0 L354.9,588.7 L356.4,588.4 L357.9,588.0 L359.4,587.5 L360.9,587.0 L362.4,586.5 L363.9,585.9 L365.4,585.3 L366.9,584.6 L368.4,583.9 L369.9,583.1 L371.4,582.2 L372.9,581.3 L374.4,580.4 L375.9,579.4 L377.4,578.3 L378.9,577.2 L380.4,576.0 L381.9,574.8 L383.4,573.5 L384.9,572.1 L386.4,570.7 L387.9,569.2 L389.4,567.7 L390.9,566.1 L392.4,564.4 L393.9,562.6 L395.4,560.8 L396.9,558.9 L398.4,557.0 L399.9,555.0 L401.4,552.9 L402.9,550.7 L404.4,548.5 L405.9,546.1 L407.4,543.8 L408.9,541.3 L410.4,538.8 L411.9,536.1 L413.4,533.4 L414.9,530.6 L416.4,527.8 L417.9,524.8 L419.4,521.8 L420.9,518.7 L422.4,515.5 L423.9,512.2 L425.4,508.9 L426.9,505.4 L427.8,503.3 L429.3,501.2 L430.8,499.2 L432.3,497.2 L433.8,495.2 L435.3,493.3 L436.8,491.4 L438.3,489.6 L439.8,487.8 L441.3,486.0 L442.8,484.3 L444.3,482.6 L445.8,481.0 L447.3,479.4 L448.8,477.8 L450.3,476.3 L451.8,474.8 L453.3,473.3 L454.8,471.9 L456.3,470.5 L457.8,469.2 L459.3,467.9 L460.8,466.6 L462.3,465.3 L463.8,464.1 L465.3,462.9 L466.8,461.8 L468.3,460.7 L469.8,459.6 L471.3,458.6 L472.8,457.5 L474.3,456.6 L475.8,455.6 L477.3,454.7 L478.8,453.8 L480.3,452.9 L481.8,452.1 L483.3,451.3 L484.8,450.5 L486.3,449.8 L487.8,449.0 L489.3,448.4 L490.8,447.7 L492.3,447.1 L493.8,446.5 L495.3,445.9 L496.8,445.3 L498.3,444.8 L499.8,444.3 L501.3,443.8 L502.8,443.4 L504.3,442.9 L505.8,442.5 L507.3,442.2 L508.8,441.8 L510.3,441.5 L511.8,441.2 L513.3,440.9 L514.8,440.6 L516.3,440.4 L517.6,440.2" fill="none" stroke="#2b4b8c" stroke-width="3.2" stroke-linejoin="round"/>
<path d="M96.8,575.8 L98.3,576.1 L99.8,576.3 L101.3,576.6 L102.8,576.7 L104.3,576.9 L105.8,577.0 L107.3,577.1 L108.8,577.1 L110.3,577.1 L111.8,577.1 L113.3,577.0 L114.8,576.9 L116.3,576.8 L117.8,576.7 L119.3,576.5 L120.8,576.3 L122.3,576.0 L123.8,575.8 L125.3,575.5 L126.8,575.2 L128.3,574.8 L129.8,574.4 L131.3,574.0 L132.8,573.6 L134.3,573.1 L135.8,572.7 L137.3,572.2 L138.8,571.7 L140.3,571.1 L141.8,570.6 L143.3,570.0 L144.8,569.4 L146.3,568.7 L147.8,568.1 L149.3,567.4 L150.8,566.8 L152.3,566.1 L153.8,565.4 L155.3,564.6 L156.8,563.9 L158.3,563.1 L159.8,562.4 L161.3,561.6 L162.8,560.8 L164.3,560.0 L165.8,559.2 L167.3,558.3 L168.8,557.5 L170.3,556.6 L171.8,555.8 L173.3,554.9 L174.8,554.0 L176.3,553.1 L177.8,552.2 L179.3,551.3 L180.8,550.4 L182.3,549.5 L183.8,548.6 L185.3,547.7 L186.8,546.8 L188.3,545.8 L189.8,544.9 L191.3,544.0 L192.8,543.0 L194.3,542.1 L195.8,541.2 L197.3,540.2 L198.8,539.3 L200.3,538.4 L201.8,537.5 L203.3,536.5 L204.8,535.6 L206.3,534.7 L207.8,533.8 L209.3,532.9 L210.8,532.0 L212.3,531.2 L213.8,530.3 L215.3,529.4 L216.8,528.6 L218.3,527.8 L219.8,526.9 L221.3,526.1 L222.8,525.3 L224.3,524.6 L225.8,523.8 L227.3,523.1 L228.8,522.3 L230.3,521.6 L231.8,521.0 L233.3,520.3 L234.8,519.6 L236.3,519.0 L237.8,518.4 L239.3,517.9 L240.8,517.3 L242.3,516.8 L243.8,516.3 L245.3,515.8 L246.8,515.4 L248.3,515.0 L249.8,514.6 L251.3,514.2 L252.8,513.9 L254.3,513.6 L255.8,513.3 L257.3,513.1 L258.8,512.9 L260.3,512.8 L261.8,512.6 L263.3,512.6 L264.8,512.5 L266.3,512.5 L267.8,512.5 L269.3,512.6 L270.8,512.7 L272.3,512.9 L273.8,513.1 L275.3,513.3 L276.8,513.6 L278.3,513.9 L279.8,514.3 L281.3,514.7 L282.8,515.2 L284.3,515.7 L285.8,516.3 L287.3,516.9 L288.8,517.6 L290.3,518.3 L291.8,519.4 L293.3,520.5 L294.8,521.7 L296.3,522.9 L297.8,524.1 L299.3,525.3 L300.8,526.6 L302.3,527.9 L303.8,529.2 L305.3,530.5 L306.8,531.8 L308.3,533.2 L309.8,534.5 L311.3,535.8 L312.8,537.2 L314.3,538.5 L315.8,539.9 L317.3,541.2 L318.8,542.6 L320.3,543.9 L321.8,545.2 L323.3,546.5 L324.8,547.7 L326.3,549.0 L327.8,550.2 L329.3,551.4 L330.8,552.6 L332.3,553.7 L333.8,554.8 L335.3,555.9 L336.8,556.9 L338.3,557.9 L339.8,558.8 L341.3,559.7 L342.8,560.6 L343.8,561.1 L345.3,561.4 L346.8,561.5 L348.3,561.4 L349.8,561.2 L351.3,560.8 L352.8,560.3 L354.3,559.6 L355.8,558.8 L357.3,557.9 L358.8,556.8 L360.3,555.6 L361.8,554.4 L363.3,553.0 L364.8,551.6 L366.3,550.1 L367.8,548.5 L369.3,546.8 L370.8,545.1 L372.3,543.4 L373.8,541.6 L375.3,539.8 L376.8,538.0 L378.3,536.2 L379.8,534.3 L381.3,532.5 L382.8,530.7 L384.3,528.9 L385.8,527.1 L387.3,525.4 L388.8,523.7 L390.3,522.0 L391.8,520.3 L393.3,518.6 L394.8,516.8 L396.3,515.1 L397.8,513.3 L399.3,511.4 L400.8,509.5 L402.3,507.6 L403.8,505.5 L405.3,503.4 L406.8,501.2 L408.3,498.9 L409.8,496.5 L411.3,494.0 L412.8,491.3 L414.3,488.5 L415.8,485.5 L417.3,482.4 L418.8,479.1 L420.3,475.7 L421.8,472.2 L423.3,468.6 L424.8,465.0 L426.3,461.4 L427.8,457.8 L429.3,454.3 L430.8,450.9 L432.3,447.7 L433.8,444.7 L435.3,441.9 L436.8,439.3 L438.3,437.0 L439.8,434.8 L441.3,432.8 L442.8,431.0 L444.3,429.4 L445.8,428.0 L447.3,426.7 L448.8,425.6 L450.3,424.6 L451.8,423.8 L453.3,423.1 L454.8,422.5 L456.3,422.1 L457.8,421.7 L459.3,421.5 L460.8,421.4 L462.3,421.4 L463.8,421.5 L465.3,421.6 L466.8,421.8 L468.3,422.1 L469.8,422.5 L471.3,422.9 L472.8,423.4 L474.3,423.9 L475.8,424.6 L477.3,425.2 L478.8,426.0 L480.3,426.7 L481.8,427.6 L483.3,428.5 L484.8,429.4 L486.3,430.4 L487.8,431.4 L489.3,432.5 L490.8,433.6 L492.3,434.7 L493.8,435.9 L495.3,437.2 L496.8,438.4 L498.3,439.7 L499.8,441.1 L501.3,442.4 L502.8,443.8 L504.3,445.2 L505.8,446.7 L507.3,448.1 L508.8,449.6 L510.3,451.1 L511.8,452.6 L513.3,454.1 L514.8,455.7 L516.3,457.2 L517.6,458.6" fill="none" stroke="#0db4f0" stroke-width="2.2" stroke-linejoin="round"/>
<path d="M96.8,588.7 L98.3,589.2 L99.8,589.5 L101.3,589.8 L102.8,590.1 L104.3,590.2 L105.8,590.3 L107.3,590.3 L108.8,590.3 L110.3,590.2 L111.8,590.1 L113.3,589.9 L114.8,589.6 L116.3,589.3 L117.8,589.0 L119.3,588.6 L120.8,588.1 L122.3,587.7 L123.8,587.2 L125.3,586.6 L126.8,586.1 L128.3,585.5 L129.8,584.9 L131.3,584.2 L132.8,583.6 L134.3,582.9 L135.8,582.2 L137.3,581.6 L138.8,580.9 L140.3,580.2 L141.8,579.4 L143.3,578.7 L144.8,578.0 L146.3,577.3 L147.8,576.6 L149.3,576.0 L150.8,575.3 L152.3,574.6 L153.8,574.0 L155.3,573.4 L156.8,572.8 L158.3,572.2 L159.8,571.7 L161.3,571.2 L162.8,570.6 L164.3,570.1 L165.8,569.6 L167.3,569.1 L168.8,568.6 L170.3,568.1 L171.8,567.6 L173.3,567.1 L174.8,566.6 L176.3,566.1 L177.8,565.5 L179.3,565.0 L180.8,564.4 L182.3,563.8 L183.8,563.2 L185.3,562.5 L186.8,561.8 L188.3,561.1 L189.8,560.3 L191.3,559.5 L192.8,558.7 L194.3,557.8 L195.8,556.9 L197.3,556.0 L198.8,555.1 L200.3,554.1 L201.8,553.1 L203.3,552.1 L204.8,551.1 L206.3,550.1 L207.8,549.0 L209.3,548.0 L210.8,547.0 L212.3,545.9 L213.8,544.9 L215.3,543.9 L216.8,542.9 L218.3,541.9 L219.8,540.9 L221.3,539.9 L222.8,539.0 L224.3,538.1 L225.8,537.2 L227.3,536.3 L228.8,535.4 L230.3,534.6 L231.8,533.7 L233.3,532.9 L234.8,532.2 L236.3,531.5 L237.8,530.8 L239.3,530.1 L240.8,529.5 L242.3,528.9 L243.8,528.3 L245.3,527.8 L246.8,527.3 L248.3,526.9 L249.8,526.5 L251.3,526.1 L252.8,525.8 L254.3,525.6 L255.8,525.4 L257.3,525.3 L258.8,525.2 L260.3,525.1 L261.8,525.1 L263.3,525.2 L264.8,525.4 L266.3,525.5 L267.8,525.8 L269.3,526.1 L270.8,526.5 L272.3,527.0 L273.8,527.5 L275.3,528.1 L276.8,528.7 L278.3,529.5 L279.8,530.2 L281.3,531.0 L282.8,531.9 L284.3,532.8 L285.8,533.7 L287.3,534.7 L288.8,535.7 L290.3,536.7 L291.8,537.8 L293.3,538.9 L294.8,540.0 L296.3,541.1 L297.8,542.2 L299.3,543.3 L300.8,544.4 L302.3,545.5 L303.8,546.6 L305.3,547.7 L306.8,548.8 L308.3,549.9 L309.8,550.9 L311.3,551.9 L312.8,552.9 L314.3,553.9 L315.8,554.8 L317.3,555.6 L318.8,556.5 L320.3,557.3 L321.8,558.0 L323.3,558.6 L324.8,559.2 L326.3,559.8 L327.8,560.3 L329.3,560.7 L330.8,561.0 L332.3,561.3 L333.8,561.5 L335.3,561.6 L336.8,561.6 L338.3,561.6 L339.8,561.5 L341.3,561.3 L342.8,561.0 L344.3,560.6 L345.8,560.2 L347.3,559.6 L348.8,559.0 L350.3,558.3 L351.8,557.5 L353.3,556.6 L354.8,555.6 L356.3,554.5 L357.8,553.3 L359.3,552.1 L360.8,550.7 L362.3,549.2 L363.8,547.6 L365.3,546.0 L366.8,544.2 L368.3,542.3 L369.8,540.3 L371.3,538.2 L372.8,536.1 L374.3,533.9 L375.8,531.7 L377.3,529.5 L378.8,527.2 L380.3,525.0 L381.8,522.8 L383.3,520.6 L384.8,518.5 L386.3,516.5 L387.8,514.5 L389.3,512.6 L390.8,510.8 L392.3,509.0 L393.8,507.2 L395.3,505.5 L396.8,503.8 L398.3,502.1 L399.8,500.4 L401.3,498.7 L402.8,497.0 L404.3,495.3 L405.8,493.6 L407.3,491.8 L408.8,490.1 L410.3,488.3 L411.8,486.5 L413.3,484.7 L414.8,482.8 L416.3,480.9 L417.8,479.0 L419.3,477.0 L420.8,475.0 L422.3,472.9 L423.8,470.8 L425.3,468.7 L426.8,466.5 L428.3,464.2 L429.8,461.9 L431.3,459.6 L432.8,457.3 L434.3,455.0 L435.8,452.6 L437.3,450.2 L438.8,447.9 L440.3,445.5 L441.8,443.1 L443.3,440.8 L444.8,438.5 L446.3,436.2 L447.8,433.9 L449.3,431.7 L450.8,429.5 L452.3,427.4 L453.8,425.3 L455.3,423.3 L456.8,421.4 L458.3,419.5 L459.8,417.7 L461.3,416.0 L462.8,414.4 L464.3,412.8 L465.8,411.4 L467.3,410.1 L468.8,408.9 L470.3,407.8 L471.8,406.8 L473.3,406.0 L474.8,405.2 L476.3,404.6 L477.8,404.0 L479.3,403.6 L480.8,403.3 L482.3,403.0 L483.8,402.8 L485.3,402.7 L486.8,402.7 L488.3,402.7 L489.8,402.8 L491.3,403.0 L492.8,403.2 L494.3,403.5 L495.8,403.8 L497.3,404.2 L498.8,404.5 L500.3,405.0 L501.8,405.4 L503.3,405.9 L504.8,406.4 L506.3,406.9 L507.8,407.5 L509.3,408.0 L510.8,408.5 L512.3,409.0 L513.8,409.6 L515.3,410.1 L516.8,410.5 L517.6,410.8" fill="none" stroke="#4b0e52" stroke-width="2.9" stroke-linejoin="round"/>
<path d="M96.8,598.3 L98.3,598.2 L99.8,598.0 L101.3,597.9 L102.8,597.8 L104.3,597.7 L105.8,597.5 L107.3,597.4 L108.8,597.3 L110.3,597.1 L111.8,597.0 L113.3,596.9 L114.8,596.7 L116.3,596.6 L117.8,596.5 L119.3,596.4 L120.8,596.2 L122.3,596.1 L123.8,596.0 L125.3,595.8 L126.8,595.7 L128.3,595.6 L129.8,595.4 L131.3,595.3 L132.8,595.2 L134.3,595.1 L135.8,594.9 L137.3,594.8 L138.4,594.7 L139.9,594.1 L141.4,593.4 L142.9,592.8 L144.4,592.3 L145.9,591.7 L147.4,591.1 L148.9,590.6 L150.4,590.1 L151.9,589.6 L153.4,589.1 L154.9,588.6 L156.4,588.1 L157.9,587.6 L159.4,587.1 L160.9,586.7 L162.4,586.2 L163.9,585.7 L165.4,585.2 L166.9,584.8 L168.4,584.3 L169.9,583.8 L171.4,583.3 L172.9,582.9 L174.4,582.4 L175.9,581.8 L177.4,581.3 L178.9,580.8 L180.4,580.3 L181.9,579.7 L183.4,579.1 L184.9,578.6 L186.4,578.0 L187.9,577.3 L189.4,576.7 L190.9,576.0 L192.4,575.3 L193.9,574.6 L195.4,573.9 L196.9,573.1 L198.4,572.3 L199.9,571.5 L201.4,570.7 L202.9,569.9 L204.4,569.0 L205.9,568.1 L207.4,567.2 L208.9,566.3 L210.4,565.4 L211.9,564.5 L213.4,563.6 L214.9,562.7 L216.4,561.7 L217.9,560.8 L219.4,559.9 L220.9,558.9 L222.4,558.0 L223.9,557.1 L225.4,556.2 L226.9,555.2 L228.4,554.3 L229.9,553.4 L231.4,552.6 L232.9,551.7 L234.4,550.8 L235.9,550.0 L237.4,549.2 L238.9,548.4 L240.4,547.6 L241.9,546.9 L243.4,546.2 L244.9,545.5 L246.4,544.9 L247.9,544.3 L249.4,543.7 L250.9,543.2 L252.4,542.8 L253.9,542.4 L255.4,542.1 L256.9,541.8 L258.4,541.6 L259.9,541.4 L261.4,541.3 L262.9,541.3 L264.4,541.4 L265.9,541.5 L267.4,541.8 L268.9,542.1 L270.4,542.5 L271.9,543.0 L273.4,543.6 L274.9,544.2 L276.4,544.9 L277.9,545.7 L279.4,546.6 L280.9,547.5 L282.4,548.4 L283.9,549.3 L285.4,550.3 L286.9,551.3 L288.4,552.3 L289.9,553.4 L291.4,554.4 L292.9,555.4 L294.4,556.3 L295.9,557.3 L297.4,558.3 L298.9,559.2 L300.4,560.1 L301.9,561.0 L303.4,561.9 L304.9,562.7 L306.4,563.5 L307.9,564.3 L309.4,565.1 L310.9,565.8 L312.4,566.5 L313.9,567.1 L315.4,567.7 L316.9,568.3 L318.4,568.8 L319.9,569.3 L321.4,569.7 L322.9,570.1 L324.4,570.5 L325.9,570.7 L327.4,571.0 L328.9,571.1 L330.4,571.2 L331.9,571.3 L333.4,571.3 L334.9,571.2 L336.4,571.0 L337.9,570.9 L339.4,570.6 L340.9,570.3 L342.4,569.9 L343.9,569.5 L345.4,569.0 L346.9,568.5 L348.4,567.9 L349.9,567.2 L351.4,566.5 L352.9,565.7 L354.4,564.9 L355.9,564.1 L357.4,563.1 L358.9,562.2 L360.4,561.1 L361.9,560.1 L363.4,558.9 L364.9,557.7 L366.4,556.5 L367.9,555.2 L369.4,553.9 L370.9,552.5 L372.4,551.1 L373.9,549.7 L375.4,548.1 L376.9,546.6 L378.4,545.0 L379.9,543.3 L381.4,541.6 L382.9,539.9 L384.4,538.1 L385.9,536.3 L387.4,534.4 L388.9,532.5 L390.4,530.5 L391.9,528.5 L393.4,526.5 L394.9,524.4 L396.4,522.2 L397.9,520.0 L399.4,517.8 L400.9,515.4 L402.4,513.1 L403.9,510.7 L405.4,508.2 L406.9,505.7 L408.4,503.1 L409.9,500.6 L411.4,498.0 L412.9,495.4 L414.4,492.8 L415.9,490.2 L417.4,487.6 L418.9,485.0 L420.4,482.4 L421.9,479.9 L423.4,477.4 L424.9,475.0 L426.4,472.5 L427.9,470.1 L429.4,467.8 L430.9,465.5 L432.4,463.2 L433.9,461.0 L435.4,458.8 L436.9,456.7 L438.4,454.6 L439.9,452.5 L441.4,450.5 L442.9,448.5 L444.4,446.6 L445.9,444.7 L447.4,442.9 L448.9,441.1 L450.4,439.4 L451.9,437.7 L453.4,436.0 L454.9,434.4 L456.4,432.9 L457.9,431.4 L459.4,430.0 L460.9,428.6 L462.4,427.2 L463.9,426.0 L465.4,424.7 L466.9,423.6 L468.4,422.4 L469.9,421.4 L471.4,420.4 L472.9,419.4 L474.4,418.5 L475.9,417.7 L477.4,416.9 L478.9,416.1 L480.4,415.5 L481.9,414.9 L483.4,414.3 L484.9,413.8 L486.4,413.4 L487.9,413.0 L489.4,412.6 L490.9,412.4 L492.4,412.2 L493.9,412.0 L495.4,411.9 L496.9,411.9 L498.4,411.9 L499.9,412.0 L501.4,412.2 L502.9,412.4 L504.4,412.7 L505.9,413.0 L507.4,413.4 L508.9,413.9 L510.4,414.4 L511.9,415.0 L513.4,415.7 L514.9,416.4 L515.5,416.7" fill="none" stroke="#ff0000" stroke-width="3.8" stroke-linejoin="round"/>
<line x1="96" y1="364" x2="96" y2="629.5" stroke="#000" stroke-width="1.8"/>
<polygon points="96,359.7 93.5,365 98.5,365" fill="#000"/>
<line x1="95" y1="628.5" x2="518" y2="624.8" stroke="#000" stroke-width="1.8"/>
<polygon points="522.5,624.7 516.5,622 516.5,627.4" fill="#000"/>
<line x1="82.5" y1="376" x2="96" y2="376" stroke="#000" stroke-width="1.8"/>
<line x1="82.5" y1="417" x2="96" y2="417" stroke="#000" stroke-width="1.8"/>
<line x1="82.5" y1="460" x2="96" y2="460" stroke="#000" stroke-width="1.8"/>
<line x1="82.5" y1="503.9" x2="96" y2="503.9" stroke="#000" stroke-width="1.8"/>
<line x1="82.5" y1="543.6" x2="96" y2="543.6" stroke="#000" stroke-width="1.8"/>
<line x1="82.5" y1="583.9" x2="96" y2="583.9" stroke="#000" stroke-width="1.8"/>
<line x1="82.5" y1="624.7" x2="96" y2="624.7" stroke="#000" stroke-width="1.8"/>
<line x1="107" y1="628.4" x2="107" y2="638.2" stroke="#000" stroke-width="1.8"/>
<line x1="186.2" y1="627.7" x2="186.2" y2="637.5" stroke="#000" stroke-width="1.8"/>
<line x1="264.9" y1="627.0" x2="264.9" y2="636.8" stroke="#000" stroke-width="1.8"/>
<line x1="345.7" y1="626.3" x2="345.7" y2="636.1" stroke="#000" stroke-width="1.8"/>
<line x1="427.1" y1="625.6" x2="427.1" y2="635.4" stroke="#000" stroke-width="1.8"/>
<line x1="504.2" y1="624.9" x2="504.2" y2="634.7" stroke="#000" stroke-width="1.8"/>
<text transform="translate(52.16,383.59) scale(1.0300,1)" font-size="21.48">60</text>
<text transform="translate(52.31,425.79) scale(1.0300,1)" font-size="21.33">50</text>
<text transform="translate(52.16,467.59) scale(1.0300,1)" font-size="21.48">40</text>
<text transform="translate(52.31,509.79) scale(1.0300,1)" font-size="21.33">30</text>
<text transform="translate(51.57,551.98) scale(1.0300,1)" font-size="22.07">20</text>
<text transform="translate(52.60,593.59) scale(1.0300,1)" font-size="21.04">10</text>
<text transform="translate(52.16,635.39) scale(1.0300,1)" font-size="21.48">00</text>
<text transform="translate(79.36,667.41) scale(1.0159,1)" font-size="25.93">1.53</text>
<text transform="translate(158.74,667.41) scale(1.0278,1)" font-size="25.93">1.55</text>
<text transform="translate(238.40,667.41) scale(1.0451,1)" font-size="25.93">1.57</text>
<text transform="translate(325.81,667.41) scale(1.0373,1)" font-size="25.93">1.59</text>
<text transform="translate(405.57,667.41) scale(1.0142,1)" font-size="25.93">1.61</text>
<text transform="translate(485.14,667.41) scale(1.0278,1)" font-size="25.93">1.63</text>
<text transform="translate(199.20,698.68) scale(1.0237,1)" font-size="28.46">Wavelength (&#956;m)</text>
<text transform="translate(23.06,598.78) rotate(-90) scale(1.0207,1)" font-size="28.57">Transmission (%)</text>
<text transform="translate(289.54,380.32) scale(1.0770,1)" font-size="35.27">(c)</text>
<rect x="104.2" y="396.2" width="166" height="25.6" fill="none" stroke="#13244e" stroke-width="1.7"/>
<line x1="105.8" y1="376.5" x2="137.5" y2="376.5" stroke="#0db4f0" stroke-width="3"/>
<line x1="106.6" y1="410.2" x2="135.9" y2="410.2" stroke="#ff0000" stroke-width="3"/>
<line x1="106.6" y1="443.2" x2="137" y2="443.2" stroke="#12b050" stroke-width="3"/>
<line x1="274" y1="410.1" x2="307.3" y2="410.1" stroke="#7030a0" stroke-width="3"/>
<line x1="274" y1="442.3" x2="307.3" y2="442.3" stroke="#203f7a" stroke-width="3"/>
<text transform="translate(148.63,380.98) scale(1.0161,1)" font-size="14.71" font-weight="bold">&#923;: 918.8-923.2 nm</text>
<text transform="translate(149.13,412.97) scale(0.9987,1)" font-size="15.00" font-weight="bold">&#923;: 938.8-943.2 nm</text>
<text transform="translate(148.63,444.78) scale(1.0161,1)" font-size="14.71" font-weight="bold">&#923;: 958.8-953.2 nm</text>
<text transform="translate(316.73,411.88) scale(1.0263,1)" font-size="14.56" font-weight="bold">&#923;: 928.8-933.2 nm</text>
<text transform="translate(316.73,443.98) scale(1.0299,1)" font-size="14.56" font-weight="bold">&#923;: 948.8-953.2 nm</text>
<text transform="translate(110.04,504.74) scale(1.0558,1)" font-size="16.42" font-weight="bold">DC</text>
<text transform="translate(136.37,506.72) scale(1.0696,1)" font-size="21.11" font-weight="bold">=</text>
<text transform="translate(167.01,506.72) scale(1.0289,1)" font-size="21.11" font-weight="bold">=</text>
<text transform="translate(151.40,494.15) scale(1.2652,1)" font-size="10.15" font-weight="bold" font-style="italic">W</text>
<line x1="152" y1="500.4" x2="164" y2="500.4" stroke="#000" stroke-width="0.9"/>
<text transform="translate(154.69,512.90) scale(1.1692,1)" font-size="9.85" font-weight="bold" font-style="italic">&#923;</text>
<text transform="translate(181.63,504.66) scale(1.0314,1)" font-size="16.18" font-weight="bold">0.411-0.425</text>
<text transform="translate(836.27,375.62) scale(1.0785,1)" font-size="35.71">(d)</text>
<line x1="713" y1="390.3" x2="995" y2="390.3" stroke="#e0e0e0" stroke-width="1"/><line x1="713" y1="423" x2="995" y2="423" stroke="#e0e0e0" stroke-width="1"/><line x1="713" y1="455.4" x2="995" y2="455.4" stroke="#e0e0e0" stroke-width="1"/><line x1="713" y1="487.9" x2="995" y2="487.9" stroke="#e0e0e0" stroke-width="1"/><line x1="713" y1="520.4" x2="995" y2="520.4" stroke="#e0e0e0" stroke-width="1"/><line x1="713" y1="553.1" x2="995" y2="553.1" stroke="#e0e0e0" stroke-width="1"/><line x1="713" y1="585.5" x2="995" y2="585.5" stroke="#e0e0e0" stroke-width="1"/><line x1="805.9" y1="390" x2="805.9" y2="618" stroke="#e0e0e0" stroke-width="1"/><line x1="900.7" y1="390" x2="900.7" y2="618" stroke="#e0e0e0" stroke-width="1"/><line x1="994.7" y1="390" x2="994.7" y2="618" stroke="#e0e0e0" stroke-width="1"/>
<rect x="846" y="395" width="126" height="55" fill="#fff"/>
<polyline points="730.3,407.2 749.1,423.4 768.0,440.2 786.8,457.7 805.7,474.9 824.5,492.1 843.3,508.2 862.2,523.8 881.0,537.2 899.9,549.7 918.7,560.0 937.5,568.0 956.4,574.2 975.2,577.5" fill="none" stroke="#4472c4" stroke-width="2.7" stroke-linejoin="round"/>
<circle cx="730.3" cy="407.2" r="2.4" fill="#4472c4"/>
<circle cx="749.1" cy="423.4" r="2.4" fill="#4472c4"/>
<circle cx="768.0" cy="440.2" r="2.4" fill="#4472c4"/>
<circle cx="786.8" cy="457.7" r="2.4" fill="#4472c4"/>
<circle cx="805.7" cy="474.9" r="2.4" fill="#4472c4"/>
<circle cx="824.5" cy="492.1" r="2.4" fill="#4472c4"/>
<circle cx="843.3" cy="508.2" r="2.4" fill="#4472c4"/>
<circle cx="862.2" cy="523.8" r="2.4" fill="#4472c4"/>
<circle cx="881.0" cy="537.2" r="2.4" fill="#4472c4"/>
<circle cx="899.9" cy="549.7" r="2.4" fill="#4472c4"/>
<circle cx="918.7" cy="560.0" r="2.4" fill="#4472c4"/>
<circle cx="937.5" cy="568.0" r="2.4" fill="#4472c4"/>
<circle cx="956.4" cy="574.2" r="2.4" fill="#4472c4"/>
<circle cx="975.2" cy="577.5" r="2.4" fill="#4472c4"/>
<polyline points="730.3,416.7 749.1,428.5 768.0,442.4 786.8,456.3 805.7,471.3 824.5,486.6 843.3,502.2 862.2,517.0 881.0,532.2 899.9,545.5 918.7,558.7 937.5,569.7 956.4,579.2 975.2,587.0" fill="none" stroke="#ff0000" stroke-width="3.1" stroke-linejoin="round"/>
<circle cx="730.3" cy="416.7" r="2.3" fill="#f0a040" stroke="#ff2000" stroke-width="0.8"/>
<circle cx="749.1" cy="428.5" r="2.3" fill="#f0a040" stroke="#ff2000" stroke-width="0.8"/>
<circle cx="768.0" cy="442.4" r="2.3" fill="#f0a040" stroke="#ff2000" stroke-width="0.8"/>
<circle cx="786.8" cy="456.3" r="2.3" fill="#f0a040" stroke="#ff2000" stroke-width="0.8"/>
<circle cx="805.7" cy="471.3" r="2.3" fill="#f0a040" stroke="#ff2000" stroke-width="0.8"/>
<circle cx="824.5" cy="486.6" r="2.3" fill="#f0a040" stroke="#ff2000" stroke-width="0.8"/>
<circle cx="843.3" cy="502.2" r="2.3" fill="#f0a040" stroke="#ff2000" stroke-width="0.8"/>
<circle cx="862.2" cy="517.0" r="2.3" fill="#f0a040" stroke="#ff2000" stroke-width="0.8"/>
<circle cx="881.0" cy="532.2" r="2.3" fill="#f0a040" stroke="#ff2000" stroke-width="0.8"/>
<circle cx="899.9" cy="545.5" r="2.3" fill="#f0a040" stroke="#ff2000" stroke-width="0.8"/>
<circle cx="918.7" cy="558.7" r="2.3" fill="#f0a040" stroke="#ff2000" stroke-width="0.8"/>
<circle cx="937.5" cy="569.7" r="2.3" fill="#f0a040" stroke="#ff2000" stroke-width="0.8"/>
<circle cx="956.4" cy="579.2" r="2.3" fill="#f0a040" stroke="#ff2000" stroke-width="0.8"/>
<circle cx="975.2" cy="587.0" r="2.3" fill="#f0a040" stroke="#ff2000" stroke-width="0.8"/>
<line x1="711.9" y1="384" x2="711.9" y2="619.5" stroke="#4472c4" stroke-width="3.8"/>
<polygon points="711.9,373.4 706,384.8 717.8,384.8" fill="#4472c4"/>
<line x1="997.9" y1="382" x2="997.9" y2="617" stroke="#ff0000" stroke-width="4.2"/>
<polygon points="997.9,371.3 992,382.6 1004.2,382.6" fill="#ff0000"/>
<line x1="711" y1="619.3" x2="992" y2="617.9" stroke="#000" stroke-width="1.9"/>
<polygon points="996.2,617.8 990.5,614.8 990.5,620.8" fill="#000"/>
<line x1="997" y1="616.9" x2="1010.7" y2="616.9" stroke="#000" stroke-width="2.1"/>
<line x1="699" y1="390.8" x2="712" y2="390.8" stroke="#000" stroke-width="2.2"/>
<line x1="699" y1="424.9" x2="712" y2="424.9" stroke="#000" stroke-width="2.2"/>
<line x1="699" y1="452.9" x2="712" y2="452.9" stroke="#000" stroke-width="2.2"/>
<line x1="699" y1="484.8" x2="712" y2="484.8" stroke="#000" stroke-width="2.2"/>
<line x1="699" y1="517.5" x2="712" y2="517.5" stroke="#000" stroke-width="2.2"/>
<line x1="699" y1="550.1" x2="712" y2="550.1" stroke="#000" stroke-width="2.2"/>
<line x1="699" y1="583" x2="712" y2="583" stroke="#000" stroke-width="2.2"/>
<line x1="699" y1="616.9" x2="712" y2="616.9" stroke="#000" stroke-width="2.2"/>
<line x1="997" y1="388.8" x2="1008.7" y2="388.8" stroke="#000" stroke-width="2.2"/>
<line x1="997" y1="456.3" x2="1008.7" y2="456.3" stroke="#000" stroke-width="2.2"/>
<line x1="997" y1="522.2" x2="1008.7" y2="522.2" stroke="#000" stroke-width="2.2"/>
<line x1="997" y1="593.8" x2="1008.7" y2="593.8" stroke="#000" stroke-width="2.2"/>
<line x1="713.6" y1="619" x2="713.6" y2="632.6" stroke="#000" stroke-width="2"/>
<line x1="804.9" y1="618.6" x2="804.9" y2="632.6" stroke="#000" stroke-width="2"/>
<line x1="901.9" y1="618.3" x2="901.9" y2="632.6" stroke="#000" stroke-width="2"/>
<line x1="995.1" y1="618" x2="995.1" y2="630" stroke="#000" stroke-width="2"/>
<text transform="translate(651.06,400.74) scale(1.0511,1)" font-size="26.22">390</text>
<text transform="translate(651.06,432.54) scale(1.0631,1)" font-size="25.93">388</text>
<text transform="translate(651.07,464.54) scale(1.0378,1)" font-size="26.37">386</text>
<text transform="translate(651.08,496.24) scale(1.0567,1)" font-size="25.63">384</text>
<text transform="translate(651.05,528.65) scale(1.0932,1)" font-size="25.48">382</text>
<text transform="translate(651.06,560.75) scale(1.0816,1)" font-size="25.48">380</text>
<text transform="translate(651.06,592.65) scale(1.0816,1)" font-size="25.48">378</text>
<text transform="translate(651.07,624.55) scale(1.0786,1)" font-size="25.37">376</text>
<text transform="translate(1011.19,400.34) scale(1.0341,1)" font-size="26.27">941</text>
<text transform="translate(1011.20,465.14) scale(1.0196,1)" font-size="26.27">939</text>
<text transform="translate(1011.20,529.04) scale(1.0125,1)" font-size="26.27">937</text>
<text transform="translate(1011.20,592.04) scale(1.0196,1)" font-size="26.27">935</text>
<text transform="translate(709.55,667.83) scale(1.0685,1)" font-size="26.96">0</text>
<text transform="translate(802.79,667.83) scale(0.9774,1)" font-size="27.37">5</text>
<text transform="translate(890.75,667.83) scale(0.9834,1)" font-size="26.96">10</text>
<text transform="translate(977.88,667.83) scale(0.9172,1)" font-size="27.16">15</text>
<text transform="translate(735.73,694.60) scale(1.0296,1)" font-size="28.35">Grating tooth index</text>
<text transform="translate(631.28,557.00) rotate(-90) scale(1.0505,1)" font-size="28.02">Width (nm)</text>
<text transform="translate(1083.95,537.55) rotate(-90) scale(1.0030,1)" font-size="28.13">Pitch (nm)</text>
<line x1="856.1" y1="404.5" x2="881.4" y2="404.5" stroke="#4472c4" stroke-width="3.6"/><circle cx="870.9" cy="404.5" r="2.6" fill="#4472c4"/>
<line x1="856.1" y1="435.7" x2="881.4" y2="435.7" stroke="#ff0000" stroke-width="3.6"/><circle cx="870.9" cy="435.7" r="2.4" fill="#f0a040" stroke="#ff2000" stroke-width="0.8"/>
<text transform="translate(889.8,416.7) scale(1.058,1)" font-size="22">Width (<tspan font-style="italic">W</tspan>)</text>
<text transform="translate(888.79,445.00) scale(0.9972,1)" font-size="23.74">Pitch (&#923;)</text>
<text transform="translate(755.86,524.09) scale(1.0222,1)" font-size="16.39" font-weight="bold">Grating</text>
<line x1="735" y1="544.7" x2="769" y2="544.7" stroke="#000" stroke-width="1.6"/>
<polygon points="732,544.7 738,541.5 738,547.9" fill="#000"/><polygon points="771.7,544.7 765.7,541.5 765.7,547.9" fill="#000"/>
<text transform="translate(779.97,555.92) scale(1.0433,1)" font-size="25.52" font-style="italic">W</text>
<polygon points="732.5,584.2 772,584.2 764.7,561.2 740.3,561.2" fill="#4472c4" stroke="#2f528f" stroke-width="0.8"/>
<polygon points="799.2,584.2 838.7,584.2 830.8,561.2 806.7,561.2" fill="#4472c4" stroke="#2f528f" stroke-width="0.8"/>
<line x1="732.5" y1="561.7" x2="732.5" y2="595" stroke="#000" stroke-width="1" stroke-dasharray="3,2"/>
<line x1="772.5" y1="561.7" x2="772.5" y2="595" stroke="#000" stroke-width="1" stroke-dasharray="3,2"/>
<line x1="840.3" y1="561.7" x2="840.3" y2="595" stroke="#000" stroke-width="1" stroke-dasharray="3,2"/>
<line x1="775" y1="605" x2="788.7" y2="605" stroke="#000" stroke-width="1.6"/><polygon points="772.5,605 778.5,601.8 778.5,608.2" fill="#000"/>
<line x1="819.2" y1="605" x2="836" y2="605" stroke="#000" stroke-width="1.6"/><polygon points="838.3,605 832.3,601.8 832.3,608.2" fill="#000"/>
<text transform="translate(793.02,611.30) scale(1.0402,1)" font-size="27.27">&#923;</text>
</svg></body></html>
